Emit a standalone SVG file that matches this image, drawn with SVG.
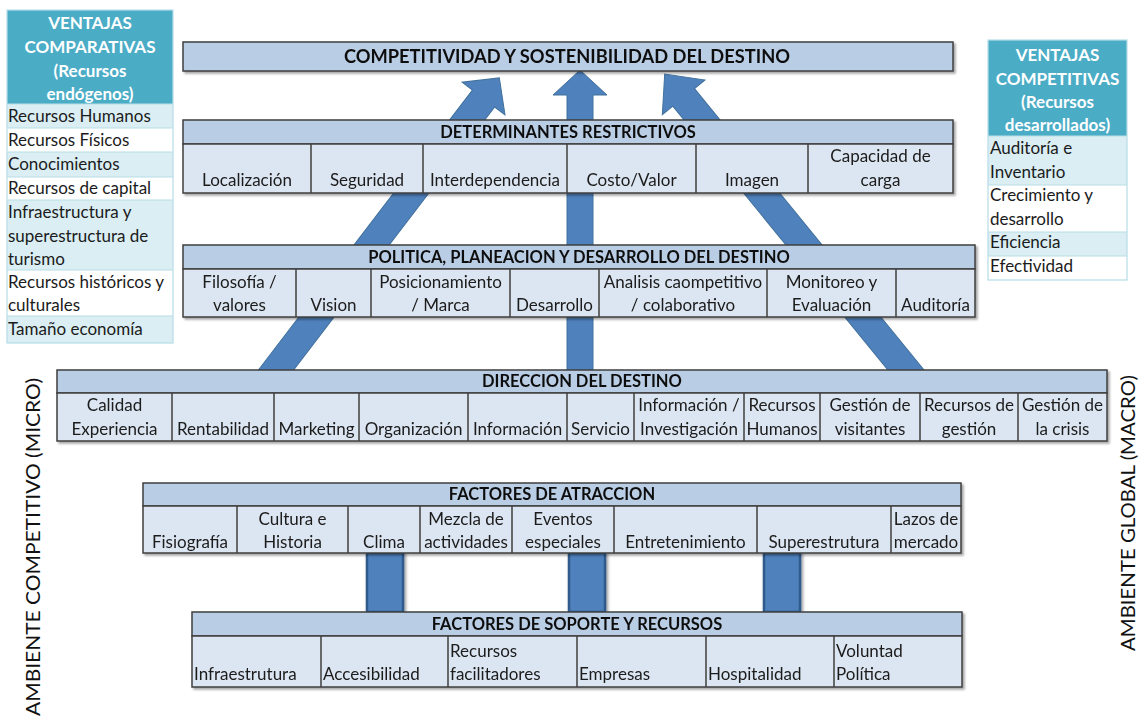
<svg xmlns="http://www.w3.org/2000/svg" width="1141" height="718" viewBox="0 0 1141 718">
<defs>
<filter id="sh" x="-5%" y="-20%" width="110%" height="150%">
<feDropShadow dx="2" dy="2" stdDeviation="1.2" flood-color="#000" flood-opacity="0.35"/>
</filter>
<filter id="sh2" x="-20%" y="-20%" width="150%" height="150%">
<feDropShadow dx="1.5" dy="1.5" stdDeviation="1.5" flood-color="#000" flood-opacity="0.45"/>
</filter>
<style>
.hdr{fill:#B9CDE5;stroke:#3F3F3F;stroke-width:1.5}
.cell{fill:#DCE6F2;stroke:#3F3F3F;stroke-width:1.5}
.dv{stroke:#3F3F3F;stroke-width:1.5}
.t{font-family:Lato,'Liberation Sans',sans-serif;font-size:17px;fill:#1b1b1b;text-anchor:middle}
.l{text-anchor:start}
.b{font-weight:bold;font-size:16.5px;fill:#111}
.w{fill:#fff;font-weight:bold;font-size:17px}
.teal{fill:#4BACC6}
.lt{fill:#DAEEF3}
.wh{fill:#fff}
.tb{stroke:#B7DDE8;stroke-width:1.2}
.arr{fill:#4F81BD;stroke:#41719C;stroke-width:1}
.pil{fill:#4F81BD;stroke:#2F5A8C;stroke-width:2.5}
.side{font-family:Lato,'Liberation Sans',sans-serif;font-size:19px;fill:#111;text-anchor:middle}
</style>
</defs>
<rect width="1141" height="718" fill="#fff"/>

<g id="connectors">
<path class="arr" d="M262,410 L262,28.3 L249,28.3 L276,2.3 L303,28.3 L290,28.3 L290,410 Z" transform="rotate(37.4 276 370)"/>
<path class="arr" d="M567,400 L567,95 L553,95 L580,70 L607,95 L593,95 L593,400 Z"/>
<path class="arr" d="M892,410 L892,18.2 L878.5,18.2 L906,-11.8 L933.5,18.2 L920,18.2 L920,410 Z" transform="rotate(-39.2 906 370)"/>
<rect class="pil" x="367" y="553" width="36" height="59" filter="url(#sh2)"/>
<rect class="pil" x="569" y="553" width="36" height="59" filter="url(#sh2)"/>
<rect class="pil" x="764" y="553" width="36" height="59" filter="url(#sh2)"/>
</g>

<g id="ventajas-comparativas">
<rect class="teal" x="7" y="10" width="166" height="94"/>
<rect class="lt" x="7" y="104" width="166" height="24"/>
<rect class="wh" x="7" y="128" width="166" height="24"/>
<rect class="lt" x="7" y="152" width="166" height="25"/>
<rect class="wh" x="7" y="177" width="166" height="23"/>
<rect class="lt" x="7" y="200" width="166" height="70"/>
<rect class="wh" x="7" y="270" width="166" height="46"/>
<rect class="lt" x="7" y="316" width="166" height="27"/>
<rect x="7" y="10" width="166" height="333" fill="none" stroke="#B7DDE8" stroke-width="1.2"/>
<path class="tb" d="M7,104H173M7,128H173M7,152H173M7,177H173M7,200H173M7,270H173M7,316H173"/>
<text class="t w" x="90" y="29">VENTAJAS</text>
<text class="t w" x="90" y="53">COMPARATIVAS</text>
<text class="t w" x="90" y="77">(Recursos</text>
<text class="t w" x="90" y="100">endógenos)</text>
<text class="t l" x="8" y="122">Recursos Humanos</text>
<text class="t l" x="8" y="146">Recursos Físicos</text>
<text class="t l" x="8" y="170">Conocimientos</text>
<text class="t l" x="8" y="194">Recursos de capital</text>
<text class="t l" x="8" y="218">Infraestructura y</text>
<text class="t l" x="8" y="242">superestructura de</text>
<text class="t l" x="8" y="265">turismo</text>
<text class="t l" x="8" y="288">Recursos históricos y</text>
<text class="t l" x="8" y="311">culturales</text>
<text class="t l" x="8" y="335">Tamaño economía</text>
</g>

<g id="ventajas-competitivas">
<rect class="teal" x="988" y="40" width="139" height="96"/>
<rect class="lt" x="988" y="136" width="139" height="49"/>
<rect class="wh" x="988" y="185" width="139" height="47"/>
<rect class="lt" x="988" y="232" width="139" height="24"/>
<rect class="wh" x="988" y="256" width="139" height="24"/>
<rect x="988" y="40" width="139" height="240" fill="none" stroke="#B7DDE8" stroke-width="1.2"/>
<path class="tb" d="M988,136H1127M988,185H1127M988,232H1127M988,256H1127"/>
<text class="t w" x="1057.5" y="61">VENTAJAS</text>
<text class="t w" x="1057.5" y="85">COMPETITIVAS</text>
<text class="t w" x="1057.5" y="108">(Recursos</text>
<text class="t w" x="1057.5" y="131">desarrollados)</text>
<text class="t l" x="990" y="154">Auditoría e</text>
<text class="t l" x="990" y="178">Inventario</text>
<text class="t l" x="990" y="201">Crecimiento y</text>
<text class="t l" x="990" y="225">desarrollo</text>
<text class="t l" x="990" y="248">Eficiencia</text>
<text class="t l" x="990" y="272">Efectividad</text>
</g>

<g id="competitividad" filter="url(#sh)">
<rect class="hdr" x="183" y="42" width="770" height="29"/>
<text class="t b" x="567" y="63" style="font-size:18.3px">COMPETITIVIDAD Y SOSTENIBILIDAD DEL DESTINO</text>
</g>

<g id="determinantes" filter="url(#sh)">
<rect class="hdr" x="183" y="120" width="770" height="24"/>
<rect class="cell" x="183" y="144" width="770" height="49"/>
<path class="dv" d="M311,144V193M423,144V193M567,144V193M696,144V193M808,144V193"/>
<text class="t b" x="568" y="138">DETERMINANTES RESTRICTIVOS</text>
<text class="t" x="247" y="186">Localización</text>
<text class="t" x="367" y="186">Seguridad</text>
<text class="t" x="495" y="186">Interdependencia</text>
<text class="t" x="631.5" y="186">Costo/Valor</text>
<text class="t" x="752" y="186">Imagen</text>
<text class="t" x="880.5" y="162">Capacidad de</text>
<text class="t" x="880.5" y="186">carga</text>
</g>

<g id="politica" filter="url(#sh)">
<rect class="hdr" x="183" y="245" width="792" height="24"/>
<rect class="cell" x="183" y="269" width="792" height="48"/>
<path class="dv" d="M296,269V317M371,269V317M510,269V317M599,269V317M767,269V317M896,269V317"/>
<text class="t b" x="579" y="263">POLITICA, PLANEACION Y DESARROLLO DEL DESTINO</text>
<text class="t" x="239.5" y="288">Filosofía /</text>
<text class="t" x="239.5" y="311">valores</text>
<text class="t" x="333.5" y="311">Vision</text>
<text class="t" x="440.5" y="288">Posicionamiento</text>
<text class="t" x="440.5" y="311">/ Marca</text>
<text class="t" x="554.5" y="311">Desarrollo</text>
<text class="t" x="683" y="288">Analisis caompetitivo</text>
<text class="t" x="683" y="311">/ colaborativo</text>
<text class="t" x="831.5" y="288">Monitoreo y</text>
<text class="t" x="831.5" y="311">Evaluación</text>
<text class="t" x="935.5" y="311">Auditoría</text>
</g>

<g id="direccion" filter="url(#sh)">
<rect class="hdr" x="57" y="370" width="1050" height="23"/>
<rect class="cell" x="57" y="393" width="1050" height="48"/>
<path class="dv" d="M172,393V441M274,393V441M359,393V441M468,393V441M567,393V441M634,393V441M744,393V441M820,393V441M920,393V441M1018,393V441"/>
<text class="t b" x="582" y="387">DIRECCION DEL DESTINO</text>
<text class="t" x="114.5" y="411">Calidad</text>
<text class="t" x="114.5" y="435">Experiencia</text>
<text class="t" x="223" y="435">Rentabilidad</text>
<text class="t" x="316.5" y="435">Marketing</text>
<text class="t" x="413.5" y="435">Organización</text>
<text class="t" x="517.5" y="435">Información</text>
<text class="t" x="600.5" y="435">Servicio</text>
<text class="t" x="689" y="411">Información /</text>
<text class="t" x="689" y="435">Investigación</text>
<text class="t" x="782" y="411">Recursos</text>
<text class="t" x="782" y="435">Humanos</text>
<text class="t" x="870" y="411">Gestión de</text>
<text class="t" x="870" y="435">visitantes</text>
<text class="t" x="969" y="411">Recursos de</text>
<text class="t" x="969" y="435">gestión</text>
<text class="t" x="1062.5" y="411">Gestión de</text>
<text class="t" x="1062.5" y="435">la crisis</text>
</g>

<g id="atraccion" filter="url(#sh)">
<rect class="hdr" x="143" y="483" width="818" height="23"/>
<rect class="cell" x="143" y="506" width="818" height="47"/>
<path class="dv" d="M237,506V553M348,506V553M420,506V553M512,506V553M614,506V553M757,506V553M891,506V553"/>
<text class="t b" x="552" y="500">FACTORES DE ATRACCION</text>
<text class="t" x="190" y="548">Fisiografía</text>
<text class="t" x="292.5" y="525">Cultura e</text>
<text class="t" x="292.5" y="548">Historia</text>
<text class="t" x="384" y="548">Clima</text>
<text class="t" x="466" y="525">Mezcla de</text>
<text class="t" x="466" y="548">actividades</text>
<text class="t" x="563" y="525">Eventos</text>
<text class="t" x="563" y="548">especiales</text>
<text class="t" x="685.5" y="548">Entretenimiento</text>
<text class="t" x="824" y="548">Superestrutura</text>
<text class="t" x="926" y="525">Lazos de</text>
<text class="t" x="926" y="548">mercado</text>
</g>

<g id="soporte" filter="url(#sh)">
<rect class="hdr" x="192" y="612" width="770" height="24"/>
<rect class="cell" x="192" y="636" width="770" height="51"/>
<path class="dv" d="M321,636V687M448,636V687M577,636V687M706,636V687M834,636V687"/>
<text class="t b" x="577" y="630">FACTORES DE SOPORTE Y RECURSOS</text>
<text class="t l" x="194" y="680">Infraestrutura</text>
<text class="t l" x="323" y="680">Accesibilidad</text>
<text class="t l" x="450" y="657">Recursos</text>
<text class="t l" x="450" y="680">facilitadores</text>
<text class="t l" x="579" y="680">Empresas</text>
<text class="t l" x="708" y="680">Hospitalidad</text>
<text class="t l" x="836" y="657">Voluntad</text>
<text class="t l" x="836" y="680">Política</text>
</g>

<g id="ambiente-micro">
<text class="side" transform="translate(40 547) rotate(-90)" textLength="338" lengthAdjust="spacingAndGlyphs">AMBIENTE COMPETITIVO (MICRO)</text>
</g>
<g id="ambiente-macro">
<text class="side" transform="translate(1135 513) rotate(-90)" textLength="276" lengthAdjust="spacingAndGlyphs">AMBIENTE GLOBAL (MACRO)</text>
</g>
</svg>
